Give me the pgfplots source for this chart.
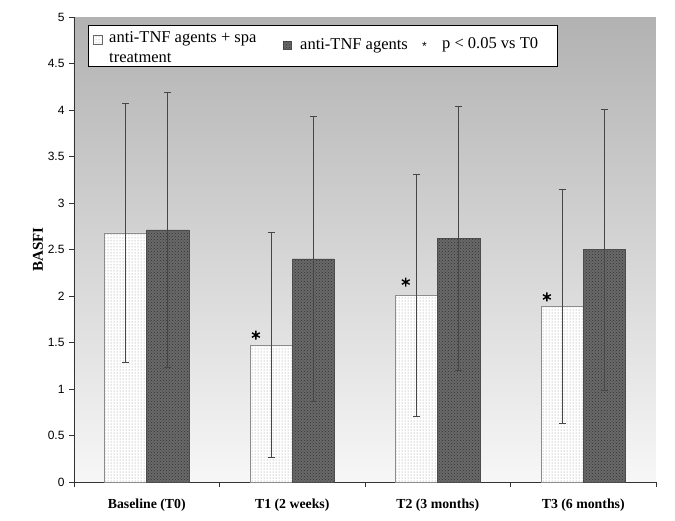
\documentclass[border=0pt]{standalone}
\usepackage{fontspec}
\setmainfont{Liberation Serif}
\newfontfamily\arial{Liberation Sans}
\usepackage{pgfplots}
\usepackage{pgfplotstable}
\pgfplotsset{compat=1.18}
\usetikzlibrary{patterns}
\definecolor{bgtop}{RGB}{178,178,178}
\definecolor{bgbot}{RGB}{247,247,247}
\definecolor{darkbar}{RGB}{105,105,105}
\definecolor{errcol}{RGB}{70,70,70}

\pgfplotstableread{
x y err
0 2.68 1.39
1 1.47 1.21
2 2.01 1.30
3 1.89 1.26
}\spa
\pgfplotstableread{
x y err
0 2.71 1.48
1 2.40 1.53
2 2.62 1.42
3 2.50 1.51
}\tnf
\pgfplotstableread{
x y
0.75 1.58
1.78 2.15
2.75 1.99
}\stars

\tikzset{
  spastyle/.style={draw=black!45, line width=0.5pt, fill=white, postaction={pattern=dots, pattern color=black!45}},
  tnfstyle/.style={draw=black!70, line width=0.5pt, fill=darkbar, postaction={pattern=crosshatch dots, pattern color=black!80}},
}

\begin{document}
\begin{tikzpicture}
\path[use as bounding box] (-74pt,-38pt) rectangle (601pt,482pt);
\begin{axis}[
  at={(0,0)}, anchor=south west,
  scale only axis, width=582pt, height=465pt,
  xmin=-0.5, xmax=3.5, ymin=0, ymax=5,
  axis x line*=bottom, axis y line*=left,
  x axis line style={-, black!80, line width=0.8pt},
  y axis line style={-, black!80, line width=0.8pt},
  axis background/.style={shade, top color=bgtop, bottom color=bgbot},
  ytick={0,0.5,...,5},
  yticklabels={0,0.5,1,1.5,2,2.5,3,3.5,4,4.5,5},
  xtick={-0.5,0.5,1.5,2.5,3.5},
  xticklabels={Baseline (T0),T1 (2 weeks),T2 (3 months),T3 (6 months)},
  x tick label as interval,
  tick align=outside,
  major tick length=5pt,
  tick style={black!80, line width=0.7pt},
  yticklabel style={font=\arial\fontsize{12}{14}\selectfont, xshift=-1pt},
  xticklabel style={font=\bfseries\fontsize{13.8}{15}\selectfont, yshift=-8.5pt},
  ylabel={BASFI},
  every axis y label/.style={at={(axis description cs:-0.062,0.5)}, rotate=90, anchor=center,
    font=\bfseries\fontsize{15}{17}\selectfont},
  /pgf/number format/assume math mode=true,
  clip=false,
]
\addplot[ybar, bar width=0.289, bar shift=-0.1445, spastyle] table[x=x,y=y]{\spa};
\addplot[ybar, bar width=0.289, bar shift=0.1445, tnfstyle] table[x=x,y=y]{\tnf};
\addplot[draw=none, mark=none,
  error bars/.cd, y dir=both, y explicit,
  error bar style={errcol, line width=0.8pt},
  error mark options={errcol, line width=0.8pt, mark size=3.5pt, rotate=90}]
  table[x expr=\thisrow{x}-0.1445, y=y, y error=err]{\spa};
\addplot[draw=none, mark=none,
  error bars/.cd, y dir=both, y explicit,
  error bar style={errcol, line width=0.8pt},
  error mark options={errcol, line width=0.8pt, mark size=3.5pt, rotate=90}]
  table[x expr=\thisrow{x}+0.1445, y=y, y error=err]{\tnf};
\addplot[only marks, mark=asterisk, mark size=4.5pt, black, line width=1.4pt]
  table[x=x,y=y]{\stars};
\end{axis}
% legend
\draw[black, line width=0.9pt, fill=white] (14pt,416pt) rectangle (483pt,457pt);
\draw[spastyle, draw=black!60] (19pt,438pt) rectangle (28pt,447pt);
\node[anchor=base west, inner sep=0pt, font=\fontsize{16.5}{20}\selectfont] at (35pt,439.3pt) {anti-TNF agents + spa};
\node[anchor=base west, inner sep=0pt, font=\fontsize{16.5}{20}\selectfont] at (35pt,419.3pt) {treatment};
\draw[tnfstyle] (209pt,433pt) rectangle (217pt,441pt);
\node[anchor=base west, inner sep=0pt, font=\fontsize{16.5}{20}\selectfont] at (226pt,432pt) {anti-TNF agents};
\node[inner sep=0pt, font=\arial\fontsize{12}{12}\selectfont] at (350.5pt,436pt) {*};
\node[anchor=base west, inner sep=0pt, font=\fontsize{16.5}{20}\selectfont] at (368pt,433pt) {p < 0.05 vs T0};
\end{tikzpicture}
\end{document}
